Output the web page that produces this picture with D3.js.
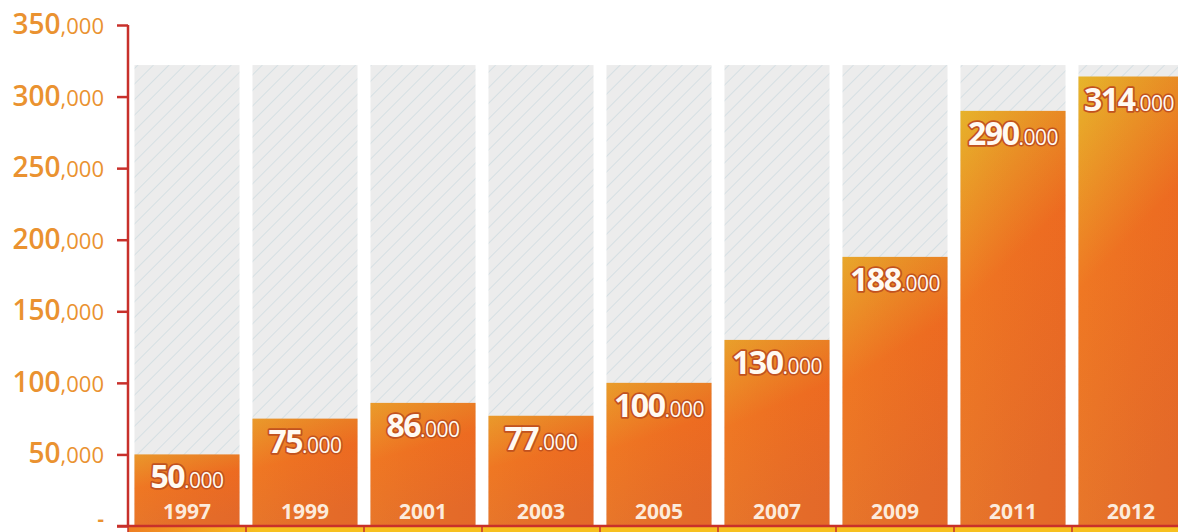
<!DOCTYPE html>
<html>
<head>
<meta charset="utf-8">
<script src="https://cdn.jsdelivr.net/npm/d3@7"></script>
<style>
  html, body { margin: 0; padding: 0; background: #fff; }
  svg { display: block; font-family: 'Open Sans', sans-serif; }
</style>
</head>
<body>
<svg id="chart"></svg>
<script>
// data
const years = ['1997', '1999', '2001', '2003', '2005', '2007', '2009', '2011', '2012'];
const values = [50000, 75000, 86000, 77000, 100000, 130000, 188000, 290000, 314000];
const yTicks = [0, 50000, 100000, 150000, 200000, 250000, 300000, 350000];
const capValue = 322000; // top of the grey hatched backdrop

const size = {w: 1178, h: 532};
const svg = d3.select('#chart').attr('width', size.w).attr('height', size.h);

const y = d3.scaleLinear().domain([0, 350000]).range([526, 25]);
const x = d3.scaleBand().domain(years).range([128, 128 + 118 * years.length])
    .paddingInner(0.11).paddingOuter(0.055);

const defs = svg.append('defs');

// diagonal hatch for the backdrop
const pat = defs.append('pattern')
    .attr('id', 'hatch')
    .attr('patternUnits', 'userSpaceOnUse')
    .attr('width', 11).attr('height', 11)
    .attr('patternTransform', 'rotate(45)');
pat.append('rect').attr('width', 11).attr('height', 11).attr('fill', '#ececec');
pat.append('line').attr('x1', 0).attr('y1', 0).attr('x2', 0).attr('y2', 11)
    .attr('stroke', '#c6d6de').attr('stroke-width', 1.2);

// per-bar gradients, top gets yellower the taller the bar
const topColor = d3.interpolateRgb('#e98c2a', '#e4b62a');
const maxV = d3.max(values);
years.forEach((yr, i) => {
    const g = defs.append('linearGradient').attr('id', 'bar' + yr)
        .attr('x1', 0).attr('y1', 0).attr('x2', 0.25).attr('y2', 1);
    g.append('stop').attr('offset', 0).attr('stop-color', topColor(values[i] / maxV));
    g.append('stop').attr('offset', 0.45).attr('stop-color', '#ee6e21');
    g.append('stop').attr('offset', 1).attr('stop-color', '#e46c2a');
});
const sheen = defs.append('linearGradient').attr('id', 'sheen')
    .attr('x1', 0).attr('y1', 0).attr('x2', 1).attr('y2', 0);
sheen.append('stop').attr('offset', 0).attr('stop-color', '#f4b030').attr('stop-opacity', 0.15);
sheen.append('stop').attr('offset', 1).attr('stop-color', '#e04a1c').attr('stop-opacity', 0.1);

const strip = defs.append('linearGradient').attr('id', 'strip')
    .attr('gradientUnits', 'userSpaceOnUse')
    .attr('x1', 128).attr('y1', 0).attr('x2', 260).attr('y2', 0);
strip.append('stop').attr('offset', 0).attr('stop-color', '#ef7e22');
strip.append('stop').attr('offset', 1).attr('stop-color', '#f7c01e');

// backdrops
svg.append('g').selectAll('rect')
    .data(years)
    .join('rect')
    .attr('x', d => x(d))
    .attr('y', y(capValue))
    .attr('width', x.bandwidth())
    .attr('height', y(0) - y(capValue))
    .attr('fill', 'url(#hatch)');

// bars
const bars = svg.append('g').selectAll('g')
    .data(years.map((yr, i) => ({year: yr, value: values[i]})))
    .join('g');

bars.append('rect')
    .attr('x', d => x(d.year))
    .attr('y', d => y(d.value))
    .attr('width', x.bandwidth())
    .attr('height', d => y(0) - y(d.value))
    .attr('fill', d => `url(#bar${d.year})`);
bars.append('rect')
    .attr('x', d => x(d.year))
    .attr('y', d => y(d.value))
    .attr('width', x.bandwidth())
    .attr('height', d => y(0) - y(d.value))
    .attr('fill', 'url(#sheen)');

// value labels: big thousands + small ".000"
const vLab = bars.append('text')
    .attr('x', d => Math.min(x(d.year) + x.bandwidth() / 2, size.w - 49))
    .attr('y', d => y(d.value) + 34)
    .attr('text-anchor', 'middle')
    .attr('fill', '#fffaf2')
    .attr('stroke', '#c2521f')
    .attr('stroke-width', 3.5)
    .attr('stroke-linejoin', 'round')
    .style('paint-order', 'stroke');
vLab.append('tspan')
    .attr('font-size', 32).attr('font-weight', 700)
    .attr('letter-spacing', -1.5)
    .text(d => Math.floor(d.value / 1000));
vLab.append('tspan')
    .attr('font-size', 21).attr('font-weight', 400)
    .attr('letter-spacing', -0.5)
    .attr('stroke-width', 3)
    .text('.000');

// year labels
bars.append('text')
    .attr('x', d => x(d.year) + x.bandwidth() / 2)
    .attr('y', 519)
    .attr('text-anchor', 'middle')
    .attr('font-size', 21).attr('font-weight', 700)
    .attr('fill', '#fcebdc')
    .text(d => d.year);

// bottom strip under the axis
svg.append('rect')
    .attr('x', 128).attr('y', y(0))
    .attr('width', size.w - 128).attr('height', size.h - y(0))
    .attr('fill', 'url(#strip)');

// x axis line + band separators
const axisColor = '#c8302b';
svg.append('line')
    .attr('x1', 117).attr('x2', size.w)
    .attr('y1', y(0)).attr('y2', y(0))
    .attr('stroke', axisColor).attr('stroke-width', 2.5);
svg.append('g').selectAll('line')
    .data(years)
    .join('line')
    .attr('x1', d => x(d) - x.step() * x.paddingOuter())
    .attr('x2', d => x(d) - x.step() * x.paddingOuter())
    .attr('y1', y(0)).attr('y2', size.h)
    .attr('stroke', axisColor).attr('stroke-width', 1.5);

// y axis
const yAxis = svg.append('g').attr('transform', 'translate(128,0)')
    .call(d3.axisLeft(y).tickValues(yTicks).tickSize(11).tickFormat(''));
yAxis.select('.domain').attr('stroke', axisColor).attr('stroke-width', 2.5)
    .attr('d', `M0,${y(350000)}V${y(0)}`);
yAxis.selectAll('.tick line').attr('stroke', axisColor).attr('stroke-width', 2.5);

const yLab = svg.append('g').selectAll('text')
    .data(yTicks)
    .join('text')
    .attr('x', 104)
    .attr('y', d => d === 0 ? y(d) : y(d) + 9)
    .attr('text-anchor', 'end')
    .attr('fill', '#ea9230');
yLab.append('tspan')
    .attr('font-size', d => d === 0 ? 20 : 28)
    .attr('font-weight', d => d === 0 ? 700 : 600)
    .text(d => d === 0 ? '-' : d3.format('d')(d / 1000));
yLab.append('tspan')
    .attr('font-size', 22).attr('font-weight', 400)
    .text(d => d === 0 ? '' : ',000');
</script>
</body>
</html>
